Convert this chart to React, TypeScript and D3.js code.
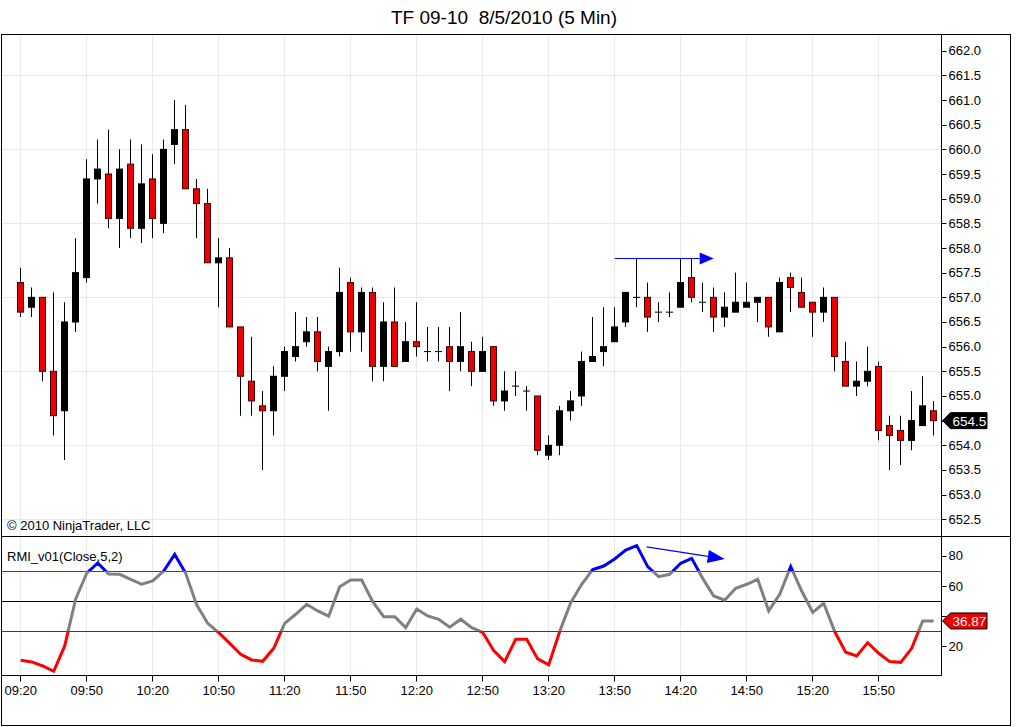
import { useEffect, useRef } from "react";
import * as d3 from "d3";

const WIDTH = 1016;
const HEIGHT = 727;
const FONT = "'Liberation Sans', Arial, sans-serif";

const TITLE = "TF 09-10\u00a0\u00a08/5/2010 (5 Min)";
const COPYRIGHT = "© 2010 NinjaTrader, LLC";
const RMI_LABEL = "RMI_v01(Close,5,2)";

// 5 minute bars starting at 09:20
const START_MINUTES = 9 * 60 + 20;
const BAR_MINUTES = 5;

const opens = [
  657.3, 656.8, 657.0, 655.5, 654.7, 656.5, 657.4, 659.4, 659.5, 658.6,
  659.7, 658.4, 659.4, 658.5, 660.1, 660.4, 659.2, 658.9, 657.7, 657.8,
  656.4, 655.3, 654.8, 654.7, 655.4, 655.8, 656.1, 656.3, 655.6, 655.9,
  657.3, 656.3, 657.1, 655.6, 656.5, 655.7, 656.1, 655.9, 655.9, 656.0,
  655.7, 655.9, 655.5, 656.0, 654.9, 655.2, 655.1, 655.0, 653.8, 654.0,
  654.7, 655.0, 655.7, 655.9, 656.1, 656.5, 657.0, 657.0, 656.7, 656.7,
  656.8, 657.4, 656.9, 657.0, 656.6, 656.7, 656.8, 656.9, 657.0, 656.3,
  657.4, 657.1, 656.9, 656.7, 657.0, 655.7, 655.2, 655.3, 655.6, 654.4,
  654.3, 654.1, 654.4, 654.7,
];
const highs = [
  657.6, 657.2, 657.0, 657.1, 656.9, 658.2, 659.8, 660.2, 660.4, 660.0,
  660.2, 660.1, 659.9, 660.2, 661.0, 660.9, 659.4, 659.2, 658.2, 658.0,
  656.4, 656.2, 655.1, 655.6, 656.0, 656.7, 656.6, 656.6, 656.0, 657.6,
  657.4, 657.2, 657.2, 656.9, 657.2, 656.5, 656.9, 656.4, 656.4, 656.4,
  656.7, 656.1, 656.2, 656.0, 655.5, 655.5, 655.2, 655.0, 654.2, 654.8,
  655.1, 655.9, 656.6, 656.8, 656.8, 657.1, 657.8, 657.3, 656.9, 657.1,
  657.8, 657.8, 657.3, 657.2, 657.1, 657.5, 657.3, 657.0, 657.0, 657.4,
  657.5, 657.4, 656.9, 657.2, 657.0, 656.1, 655.7, 656.0, 655.7, 654.6,
  654.6, 655.1, 655.4, 654.9,
];
const lows = [
  656.6, 656.6, 655.3, 654.2, 653.7, 656.3, 657.3, 658.9, 658.4, 658.0,
  658.2, 658.1, 658.2, 658.3, 659.7, 659.2, 658.2, 657.7, 656.8, 656.4,
  654.6, 654.6, 653.5, 654.2, 655.1, 655.7, 656.0, 655.5, 654.7, 655.8,
  655.9, 655.9, 655.3, 655.3, 655.6, 655.7, 655.8, 655.7, 655.7, 655.1,
  655.5, 655.2, 655.5, 654.8, 654.7, 655.0, 654.7, 653.8, 653.7, 653.8,
  654.5, 654.8, 655.7, 655.6, 656.1, 656.4, 656.8, 656.3, 656.5, 656.6,
  656.8, 656.9, 656.7, 656.3, 656.4, 656.7, 656.8, 656.5, 656.2, 656.3,
  656.7, 656.8, 656.2, 656.5, 655.5, 655.2, 655.0, 655.2, 654.1, 653.5,
  653.6, 653.9, 654.4, 654.2,
];
const closes = [
  656.7, 657.0, 655.5, 654.6, 656.5, 657.5, 659.4, 659.6, 658.6, 659.6,
  658.4, 659.3, 658.6, 660.0, 660.4, 659.2, 658.9, 657.7, 657.8, 656.4,
  655.4, 654.9, 654.7, 655.4, 655.9, 656.0, 656.3, 655.7, 655.9, 657.1,
  656.3, 657.1, 655.6, 656.5, 655.6, 656.1, 656.0, 655.9, 655.9, 655.7,
  656.0, 655.5, 655.9, 654.9, 655.1, 655.2, 655.1, 653.9, 654.0, 654.7,
  654.9, 655.7, 655.8, 656.0, 656.4, 657.1, 657.0, 656.6, 656.7, 656.7,
  657.3, 657.0, 656.9, 656.6, 656.8, 656.9, 656.9, 657.0, 656.4, 657.3,
  657.2, 656.8, 656.7, 657.0, 655.8, 655.2, 655.3, 655.5, 654.3, 654.2,
  654.1, 654.5, 654.8, 654.5,
];

// RMI(5,2) indicator values, one per bar
const rmiValues = [
  10.8, 9.7, 7.0, 3.5, 20.3, 51.5, 68.5, 75.3, 68.0, 67.8,
  64.5, 61.2, 63.4, 70.0, 81.0, 68.5, 47.5, 35.3, 29.1, 22.0,
  14.8, 11.0, 10.1, 18.7, 35.3, 41.3, 47.9, 43.5, 40.0, 59.6,
  64.0, 64.0, 49.7, 39.7, 39.7, 32.4, 44.8, 40.2, 38.0, 32.7,
  38.0, 32.4, 29.3, 17.2, 9.9, 24.7, 24.7, 11.7, 7.7, 29.8,
  49.0, 61.2, 70.9, 73.3, 78.0, 83.9, 86.8, 72.9, 66.2, 67.8,
  75.1, 78.4, 65.1, 53.4, 50.6, 58.5, 61.2, 64.5, 43.5, 54.5,
  72.9, 56.7, 42.6, 48.6, 29.8, 16.1, 13.6, 22.5, 15.4, 9.9,
  9.4, 18.7, 36.9, 36.87,
];

const priceTicks = [
  652.5, 653.0, 653.5, 654.0, 654.5, 655.0, 655.5, 656.0, 656.5, 657.0,
  657.5, 658.0, 658.5, 659.0, 659.5, 660.0, 660.5, 661.0, 661.5, 662.0,
];
const priceGrid = [652.5, 654.0, 655.5, 657.0, 658.5, 660.0, 661.5];
const rmiTicks = [20, 40, 60, 80];
const rmiUpper = 70;
const rmiMid = 50;
const rmiLower = 30;
const timeTicks = [
  "09:20", "09:50", "10:20", "10:50", "11:20", "11:50", "12:20",
  "12:50", "13:20", "13:50", "14:20", "14:50", "15:20", "15:50",
];

// hand drawn arrows (bar index, value)
const priceArrow = { fromBar: 54, fromValue: 657.8, toBar: 63, toValue: 657.8 };
const rmiArrow = { fromBar: 56.9, fromValue: 86.0, toBar: 64, toValue: 77.9 };

function timeLabel(i: number) {
  const m = START_MINUTES + i * BAR_MINUTES;
  return `${String(Math.floor(m / 60)).padStart(2, "0")}:${String(m % 60).padStart(2, "0")}`;
}

export default function App() {
  const svgRef = useRef<SVGSVGElement>(null);

  useEffect(() => {
    if (!svgRef.current) return;
    const svg = d3.select(svgRef.current);
    svg.selectAll("*").remove();

    // Layout
    const frameLeft = 1.5;
    const frameRight = 1010.5;
    const frameTop = 34.5;
    const frameBottom = 725.5;
    const axisX = 941.5;
    const priceBottom = 536.5;
    const rmiBottom = 675.5;

    const bars = closes.map((c, i) => ({
      i,
      open: opens[i],
      high: highs[i],
      low: lows[i],
      close: c,
      rmi: rmiValues[i],
      time: timeLabel(i),
    }));
    const last = bars[bars.length - 1];

    const x = d3.scaleLinear().domain([0, bars.length - 1]).range([20.7, 20.7 + 11 * (bars.length - 1)]);
    const y = d3.scaleLinear().domain([652.5, 662.0]).range([519.3, 50.7]);
    const yR = d3.scaleLinear().domain([rmiLower, rmiUpper]).range([631.3, 571]);
    const px = (i: number) => Math.floor(x(i)) + 0.5;
    const crisp = (v: number) => Math.round(v) + 0.5;

    svg.append("rect").attr("width", WIDTH).attr("height", HEIGHT).attr("fill", "#fff");

    // Title
    svg
      .append("text")
      .attr("x", 504)
      .attr("y", 23.5)
      .attr("text-anchor", "middle")
      .attr("font-family", FONT)
      .attr("font-size", 19)
      .attr("fill", "#000")
      .text(TITLE);

    // Grid
    const grid = svg.append("g").attr("stroke", "#e9e9e9").attr("stroke-width", 1);
    const tickBars = bars.filter((b) => timeTicks.includes(b.time));
    grid
      .selectAll("line.v")
      .data(tickBars)
      .join("line")
      .attr("x1", (d) => px(d.i))
      .attr("x2", (d) => px(d.i))
      .attr("y1", frameTop)
      .attr("y2", rmiBottom);
    grid
      .selectAll("line.h")
      .data(priceGrid)
      .join("line")
      .attr("x1", frameLeft)
      .attr("x2", axisX)
      .attr("y1", (d) => crisp(y(d)))
      .attr("y2", (d) => crisp(y(d)));

    // Candles
    const candles = svg.append("g");
    candles
      .selectAll("line")
      .data(bars)
      .join("line")
      .attr("x1", (d) => px(d.i))
      .attr("x2", (d) => px(d.i))
      .attr("y1", (d) => y(d.high))
      .attr("y2", (d) => y(d.low))
      .attr("stroke", "#000")
      .attr("stroke-width", 1);
    candles
      .selectAll("rect")
      .data(bars)
      .join("rect")
      .attr("x", (d) => px(d.i) - 3)
      .attr("width", 6)
      .attr("y", (d) => y(Math.max(d.open, d.close)))
      .attr("height", (d) => Math.max(0.01, Math.abs(y(d.open) - y(d.close))))
      .attr("fill", (d) => (d.close < d.open ? "#ee0000" : "#000"))
      .attr("stroke", (d) => (d.close < d.open ? "#3c0000" : "#000"))
      .attr("stroke-width", 1);

    // Arrowhead helper
    const arrow = (
      g: d3.Selection<SVGGElement, unknown, null, undefined>,
      x1: number,
      y1: number,
      x2: number,
      y2: number,
      len: number,
      half: number,
    ) => {
      const a = Math.atan2(y2 - y1, x2 - x1);
      const bx = x2 - len * Math.cos(a);
      const by = y2 - len * Math.sin(a);
      g.append("line")
        .attr("x1", x1)
        .attr("y1", y1)
        .attr("x2", bx)
        .attr("y2", by)
        .attr("stroke", "#0000ff")
        .attr("stroke-width", 1.2);
      g.append("path")
        .attr(
          "d",
          `M${x2},${y2}L${bx - half * Math.sin(a)},${by + half * Math.cos(a)}L${bx + half * Math.sin(a)},${by - half * Math.cos(a)}Z`,
        )
        .attr("fill", "#0000ff");
    };

    arrow(
      svg.append("g"),
      x(priceArrow.fromBar),
      crisp(y(priceArrow.fromValue)),
      x(priceArrow.toBar),
      crisp(y(priceArrow.toValue)),
      14,
      6,
    );

    // Copyright
    svg
      .append("text")
      .attr("x", 7)
      .attr("y", 530)
      .attr("font-family", FONT)
      .attr("font-size", 13)
      .attr("fill", "#000")
      .text(COPYRIGHT);

    // RMI level lines: overbought, middle, oversold
    const levelGroup = svg.append("g").attr("shape-rendering", "crispEdges");
    const levelLine = (value: number, color: string) =>
      levelGroup
        .append("line")
        .attr("x1", frameLeft)
        .attr("x2", axisX)
        .attr("y1", crisp(yR(value)))
        .attr("y2", crisp(yR(value)))
        .attr("stroke", color)
        .attr("stroke-width", 1);
    levelLine(rmiUpper, "#007a00");
    levelLine(rmiMid, "#000000");
    levelLine(rmiLower, "#c80010");

    // RMI line split by zone
    const defs = svg.append("defs");
    const zones: [string, number, number, string][] = [
      ["zoneHigh", priceBottom, yR(rmiUpper), "#0000ff"],
      ["zoneMid", yR(rmiUpper), yR(rmiLower), "#808080"],
      ["zoneLow", yR(rmiLower), rmiBottom, "#ff0000"],
    ];
    const rmiLine = d3
      .line<(typeof bars)[number]>()
      .x((d) => x(d.i))
      .y((d) => yR(d.rmi));
    zones.forEach(([id, top, bottom, color]) => {
      defs
        .append("clipPath")
        .attr("id", id)
        .append("rect")
        .attr("x", 0)
        .attr("y", top)
        .attr("width", axisX)
        .attr("height", bottom - top);
      svg
        .append("path")
        .datum(bars)
        .attr("d", rmiLine)
        .attr("fill", "none")
        .attr("stroke", color)
        .attr("stroke-width", 3)
        .attr("stroke-linejoin", "miter")
        .attr("clip-path", `url(#${id})`);
    });

    arrow(
      svg.append("g"),
      x(rmiArrow.fromBar),
      yR(rmiArrow.fromValue),
      x(rmiArrow.toBar),
      yR(rmiArrow.toValue),
      17,
      6.5,
    );

    svg
      .append("text")
      .attr("x", 7)
      .attr("y", 561)
      .attr("font-family", FONT)
      .attr("font-size", 13)
      .attr("fill", "#000")
      .text(RMI_LABEL);

    // Frame and separators
    const frame = svg.append("g").attr("stroke", "#000").attr("stroke-width", 1).attr("fill", "none");
    frame
      .append("rect")
      .attr("x", frameLeft)
      .attr("y", frameTop)
      .attr("width", frameRight - frameLeft)
      .attr("height", frameBottom - frameTop);
    frame.append("line").attr("x1", frameLeft).attr("x2", frameRight).attr("y1", priceBottom).attr("y2", priceBottom);
    frame.append("line").attr("x1", axisX).attr("x2", axisX).attr("y1", frameTop).attr("y2", rmiBottom);
    frame.append("line").attr("x1", frameLeft).attr("x2", axisX).attr("y1", rmiBottom).attr("y2", rmiBottom);

    // tick labels under the last value markers are hidden
    const priceLabels = priceTicks.filter((d) => Math.abs(y(d) - y(last.close)) > 12);
    const rmiLabels = rmiTicks.filter((d) => Math.abs(yR(d) - yR(last.rmi)) > 12);

    // Price axis
    const priceAxis = svg.append("g");
    priceAxis
      .selectAll("line")
      .data(priceTicks)
      .join("line")
      .attr("x1", axisX)
      .attr("x2", axisX + 5)
      .attr("y1", (d) => crisp(y(d)))
      .attr("y2", (d) => crisp(y(d)))
      .attr("stroke", "#000");
    priceAxis
      .selectAll("text")
      .data(priceLabels)
      .join("text")
      .attr("x", axisX + 7)
      .attr("y", (d) => y(d) + 4.5)
      .attr("font-family", FONT)
      .attr("font-size", 13)
      .attr("fill", "#000")
      .text((d) => d.toFixed(1));

    // RMI axis
    const rmiAxis = svg.append("g");
    rmiAxis
      .selectAll("line")
      .data(rmiTicks)
      .join("line")
      .attr("x1", axisX)
      .attr("x2", axisX + 5)
      .attr("y1", (d) => crisp(yR(d)))
      .attr("y2", (d) => crisp(yR(d)))
      .attr("stroke", "#000");
    rmiAxis
      .selectAll("text")
      .data(rmiLabels)
      .join("text")
      .attr("x", axisX + 7)
      .attr("y", (d) => yR(d) + 4.5)
      .attr("font-family", FONT)
      .attr("font-size", 13)
      .attr("fill", "#000")
      .text((d) => String(d));

    // Last value markers
    const marker = (yy: number, fill: string, label: string) => {
      const g = svg.append("g");
      g.append("path")
        .attr("d", `M${axisX + 1},${yy}L${axisX + 9},${yy - 8}H987V${yy + 8}H${axisX + 9}Z`)
        .attr("fill", fill)
        .attr("stroke", "#000")
        .attr("stroke-width", 1);
      g.append("text")
        .attr("x", axisX + 11)
        .attr("y", yy + 5)
        .attr("font-family", FONT)
        .attr("font-size", 13.5)
        .attr("fill", "#fff")
        .text(label);
    };
    marker(y(last.close), "#000", last.close.toFixed(1));
    marker(yR(last.rmi), "#ee0000", last.rmi.toFixed(2));

    // Time axis
    const timeAxis = svg.append("g");
    timeAxis
      .selectAll("line")
      .data(tickBars)
      .join("line")
      .attr("x1", (d) => px(d.i))
      .attr("x2", (d) => px(d.i))
      .attr("y1", rmiBottom)
      .attr("y2", rmiBottom + 6)
      .attr("stroke", "#000");
    timeAxis
      .selectAll("text")
      .data(tickBars)
      .join("text")
      .attr("x", (d) => x(d.i))
      .attr("y", 695)
      .attr("text-anchor", "middle")
      .attr("font-family", FONT)
      .attr("font-size", 13)
      .attr("fill", "#000")
      .text((d) => d.time);
  }, []);

  return (
    <div style={{ position: "absolute", left: 0, top: 0 }}>
      <svg ref={svgRef} width={WIDTH} height={HEIGHT} style={{ display: "block" }} />
    </div>
  );
}
